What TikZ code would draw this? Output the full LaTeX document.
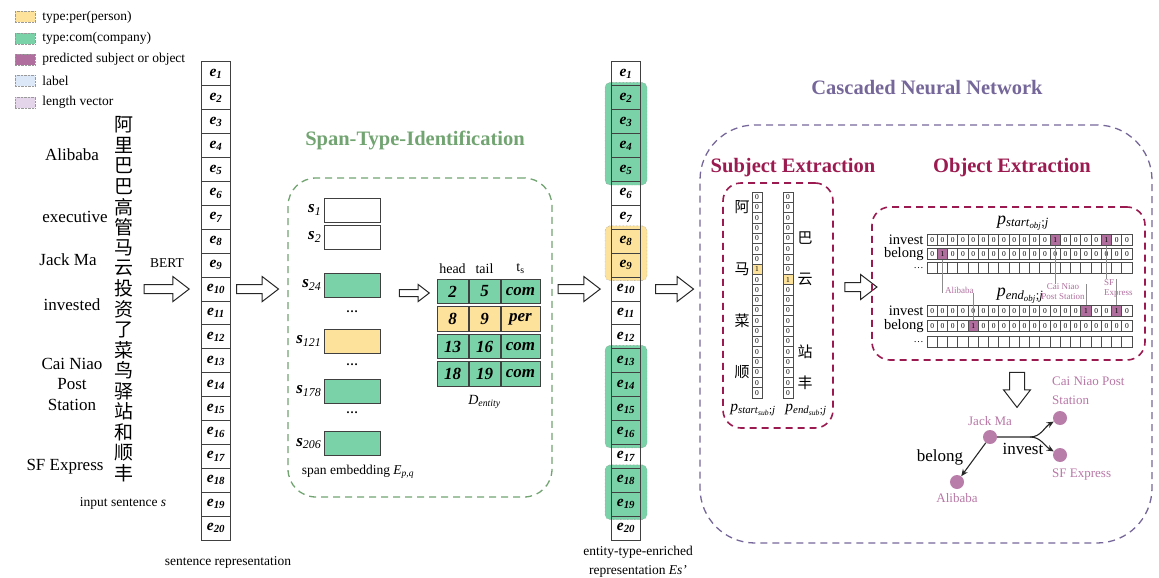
\documentclass[tikz,border=0pt]{standalone}
\usepackage{fontspec}
\setmainfont{Liberation Serif}
\newfontfamily\cjk{Noto Sans CJK SC}
\usetikzlibrary{positioning,shapes.arrows,arrows.meta,fit,backgrounds}

\definecolor{comgreen}{HTML}{7AD3A8}
\definecolor{peryellow}{HTML}{FDE29C}
\definecolor{predmauve}{HTML}{B06E9E}
\definecolor{labelblue}{HTML}{DCE7F8}
\definecolor{lenlilac}{HTML}{E5D5EA}
\definecolor{spangreen}{HTML}{72A472}
\definecolor{cnnpurple}{HTML}{76679A}
\definecolor{extcrimson}{HTML}{9B1B50}
\definecolor{entpink}{HTML}{B877A6}

\newcommand{\fsz}[1]{\fontsize{#1}{#1}\selectfont}

\tikzset{
  legendbox/.style={draw=black!40, densely dotted, fill=#1, minimum width=20pt, minimum height=11pt, inner sep=0pt},
  legendtext/.style={inner sep=0pt, font=\fsz{13.5}},
  word/.style={inner sep=0pt, font=\fontsize{17}{20.5}\selectfont},
  hanzi/.style={inner sep=0pt, font=\cjk\fsz{19}},
  captext/.style={inner sep=0pt, font=\fontsize{13.5}{19}\selectfont},
  sectitle/.style={inner sep=0pt, font=\fsz{20.5}\bfseries, text=#1},
  ecell/.style={draw=black!75, line width=1pt, minimum width=29pt, minimum height=23.9pt, inner sep=0pt, font=\fsz{15.5}\bfseries\itshape},
  entgroup/.style={fill=#1, draw=black!50, densely dotted, rounded corners=5pt, inner xsep=6pt, inner ysep=3pt},
  blockarrow/.style={single arrow, draw=black!85, line width=1pt, fill=white, inner sep=0pt, text height=8pt, text depth=0pt, single arrow head extend=8pt, single arrow tip angle=75, minimum height=#1},
  spanframe/.style={draw=spangreen, line width=1.3pt, dash pattern=on 7pt off 5pt, rounded corners=28pt, inner sep=0pt},
  cnnframe/.style={draw=cnnpurple, line width=1.3pt, dash pattern=on 7pt off 5pt, rounded corners=55pt, inner sep=0pt},
  extframe/.style={draw=extcrimson, line width=1.6pt, dash pattern=on 7pt off 5pt, rounded corners=18pt, inner sep=0pt},
  spancell/.style={draw=black!75, line width=1pt, minimum width=56pt, minimum height=24pt, inner sep=0pt},
  slabel/.style={inner sep=0pt, font=\fsz{17}},
  ellip/.style={inner sep=0pt, font=\fsz{12}\bfseries},
  tcell/.style={draw=black!75, line width=1pt, minimum height=24.5pt, inner sep=0pt, font=\fsz{17}\bfseries\itshape},
  thead/.style={inner sep=0pt, font=\fsz{14}},
  bitcell/.style={draw=black!70, line width=0.6pt, minimum width=10pt, minimum height=10.3pt, inner sep=0pt, font=\fsz{7.5}},
  objcell/.style={bitcell, minimum width=10.25pt, minimum height=11pt},
  sub0/.style={}, sub1/.style={fill=peryellow},
  obj0/.style={}, obj1/.style={fill=predmauve},
  rowlabel/.style={inner sep=0pt, font=\fsz{14.5}},
  plabel/.style={inner sep=0pt, font=\fsz{15.5}},
  annotext/.style={inner sep=0pt, font=\fontsize{9}{10}\selectfont, text=predmauve},
  annoline/.style={draw=black!45, line width=0.5pt},
  entnode/.style={circle, fill=predmauve!90, minimum size=14pt, inner sep=0pt},
  entlabel/.style={inner sep=0pt, font=\fontsize{13}{19}\selectfont, text=entpink},
  rel/.style={-{Stealth[length=7pt,width=6pt]}, line width=1.1pt, draw=black!85},
  rellabel/.style={inner sep=0pt, font=\fsz{17}}
}

\begin{document}
\begin{tikzpicture}[x=1pt,y=-1pt]
\useasboundingbox (0,0) rectangle (1159,578);

% legend
\foreach \col/\txt [count=\k] in {peryellow/type:per(person),comgreen/type:com(company),predmauve/predicted subject or object,labelblue/label,lenlilac/length vector}{
  \node[legendbox=\col] (key\k) at (25,{17+(\k-1)*21.3}) {};
  \node[legendtext, right=7pt of key\k] (keytext\k) {\txt};
}

% input sentence
\node[word] (wali) at (72,155) {Alibaba};
\node[word] (wexec) at (75,217) {executive};
\node[word] (wjack) at (68,260) {Jack Ma};
\node[word] (winv) at (72,305) {invested};
\node[word, align=center] (wcai) at (72,384) {Cai Niao\\Post\\Station};
\node[word] (wsf) at (65,467) {SF Express};
\foreach \c [count=\k] in {阿,里,巴,巴,高,管,马,云,投,资,了,菜,鸟,驿,站,和,顺,丰}
  \node[hanzi] (zi\k) at (124,{125+(\k-1)*20.47}) {\c};
\node[captext] (inputcap) at (123,503) {input sentence \textit{s}};

% sentence representation
\foreach \i in {1,...,20}
  \node[ecell] (e\i) at (216,{62+(\i-0.5)*23.9}) {e\textsubscript{\i}};
\node[captext] (sentcap) at (228,562) {sentence representation};
\node[blockarrow=45pt, left=11pt of e10] (bertarrow) {};
\node[captext] (bert) at (167,263) {BERT};
\node[blockarrow=42pt, right=5pt of e10] (arrowspan) {};

% span-type-identification
\node[sectitle=spangreen] (spantitle) at (415,140) {Span-Type-Identification};
\node[spanframe, minimum width=264pt, minimum height=319pt] (spanbox) at (420,337.5) {};
\foreach \name/\y/\col in {1/210/white,2/237/white,24/285/comgreen,121/341/peryellow,178/391/comgreen,206/443.5/comgreen}{
  \node[spancell, fill=\col] (s\name) at (352,\y) {};
  \node[slabel, left=2pt of s\name] (ls\name) {\textbf{\textit{s}}\textsubscript{\textit{\name}}};
}
\foreach \y [count=\k] in {312,365,413}
  \node[ellip] (dots\k) at (352,\y) {\ldots};
\node[captext] (spancap) at (358,472) {span embedding \textit{E}\textsubscript{\textit{p,q}}};
\node[blockarrow=30pt, text height=6pt, single arrow head extend=5pt] (arrowtab) at (412,293) {};

\foreach \h/\t/\ty/\col [count=\r] in {2/5/com/comgreen,8/9/per/peryellow,13/16/com/comgreen,18/19/com/comgreen}{
  \node[tcell, minimum width=31pt, fill=\col] (head\r) at (452.5,{291.5+(\r-1)*27.5}) {\h};
  \node[tcell, minimum width=31pt, fill=\col, right=0pt of head\r] (tail\r) {\t};
  \node[tcell, minimum width=39pt, fill=\col, right=0pt of tail\r] (type\r) {\ty};
}
\node[thead, above=5pt of head1] (hhead) {head};
\node[thead, above=5pt of tail1] (htail) {tail};
\node[thead, above=5pt of type1] (htype) {t\textsubscript{s}};
\node[thead, below=8pt of tail4] (dentity) {\textit{D}\textsubscript{\textit{entity}}};

% entity-type-enriched representation
\foreach \i in {1,...,20}
  \node[ecell] (ee\i) at (626,{62+(\i-0.5)*23.9}) {e\textsubscript{\i}};
\begin{scope}[on background layer]
  \node[entgroup=comgreen, fit=(ee2)(ee5)] (gcom1) {};
  \node[entgroup=peryellow, fit=(ee8)(ee9)] (gper1) {};
  \node[entgroup=comgreen, fit=(ee13)(ee16)] (gcom2) {};
  \node[entgroup=comgreen, fit=(ee18)(ee19)] (gcom3) {};
\end{scope}
\node[blockarrow=42pt, left=10pt of ee10] (arrowmid) {};
\node[captext, align=center] (entcap) at (638,562) {entity-type-enriched\\representation \textit{Es'}};
\node[blockarrow=38pt, right=14pt of ee10] (arrowcnn) {};

% cascaded neural network
\node[sectitle=cnnpurple] (cnntitle) at (927,88) {Cascaded Neural Network};
\node[cnnframe, minimum width=452pt, minimum height=418pt] (cnnbox) at (926,334) {};
\node[sectitle=extcrimson] (subtitle) at (793,168) {Subject Extraction};
\node[sectitle=extcrimson] (objtitle) at (1012,168) {Object Extraction};

% subject extraction
\node[extframe, minimum width=110pt, minimum height=245pt] (subbox) at (778,305.5) {};
\foreach \k in {0,...,19}{
  \pgfmathtruncatemacro\bit{\k==7}
  \node[bitcell, sub\bit] (ss\k) at (757,{192+(\k+0.5)*10.3}) {\bit};
  \pgfmathtruncatemacro\bit{\k==8}
  \node[bitcell, sub\bit] (se\k) at (788,{192+(\k+0.5)*10.3}) {\bit};
}
\foreach \k/\c in {1/阿,7/马,12/菜,17/顺}
  \node[hanzi, font=\cjk\fsz{15}, left=2pt of ss\k] (zs\k) {\c};
\foreach \k/\c in {4/巴,8/云,15/站,18/丰}
  \node[hanzi, font=\cjk\fsz{15}, right=4pt of se\k] (ze\k) {\c};
\node[plabel] (pstartsub) at (753,410) {\textit{p}\textsubscript{\textit{start}\textsubscript{\textit{sub}};\textit{j}}};
\node[plabel] (pendsub) at (806,410) {\textit{p}\textsubscript{\textit{end}\textsubscript{\textit{sub}};\textit{j}}};
\node[blockarrow=32pt] (arrowobj) at (858,287) {};

% object extraction
\node[extframe, minimum width=273pt, minimum height=153pt] (objbox) at (1008.5,283.5) {};
\node[plabel, font=\fsz{18}] (pstartobj) at (1023,223) {\textit{p}\textsubscript{\textit{start}\textsubscript{\textit{obj}};\textit{j}}};
\node[plabel, font=\fsz{18}] (pendobj) at (1020,296) {\textit{p}\textsubscript{\textit{end}\textsubscript{\textit{obj}};\textit{j}}};
\foreach \row/\y/\one/\two in {psi/240/12/17,psb/254/1/1,pei/311/15/18,peb/326/4/4}
  \foreach \k in {0,...,19}{
    \pgfmathtruncatemacro\bit{or(\k==\one,\k==\two)}
    \node[objcell, obj\bit] (\row\k) at ({927+(\k+0.5)*10.25},\y) {\bit};
  }
\foreach \row/\y in {psd/268,ped/342}
  \foreach \k in {0,...,19}
    \node[objcell] (\row\k) at ({927+(\k+0.5)*10.25},\y) {};
\foreach \row/\txt in {psi/invest,psb/belong,pei/invest,peb/belong}
  \node[rowlabel, left=3pt of \row0] (lab\row) {\txt};
\foreach \row in {psd,ped}
  \node[rowlabel, font=\fsz{10}, left=3pt of \row0] (lab\row) {\ldots};

\node[annotext, anchor=west] (alilab) at (945,290) {Alibaba};
\node[annotext, align=center] (cnlab) at (1063,292) {Cai Niao\\Post Station};
\node[annotext, align=left, anchor=west] (sflab) at (1104,288) {SF\\Express};
\draw[annoline] (psb1.south) -- (psb1.south |- alilab.south);
\draw[annoline] (peb4.north) -- (peb4.north |- alilab.south);
\draw[annoline] (psi12.south) -- (psi12.south |- cnlab.north);
\draw[annoline] (pei15.north) -- (pei15.north |- cnlab.north);
\draw[annoline] (psi17.south) -- (psi17.south |- sflab.north);
\draw[annoline] (pei18.north) -- (pei18.north |- sflab.north);

% extracted triples
\node[blockarrow=35pt, text height=14pt, single arrow head extend=6pt, rotate=-90] (arrowgraph) at (1017,385) {};
\node[entnode] (jackma) at (990,437) {};
\node[entnode] (cainiao) at (1060,418) {};
\node[entnode] (sfexp) at (1060,455) {};
\node[entnode] (alibaba) at (957,482) {};
\node[entlabel, above=4pt of jackma] (jackmalab) {Jack Ma};
\node[entlabel, align=left, anchor=west] (cainiaolab) at (1052,391) {Cai Niao Post\\Station};
\node[entlabel, anchor=west] (sfexplab) at (1052,475) {SF Express};
\node[entlabel, below=4pt of alibaba] (alibabalab) {Alibaba};
\coordinate (split) at (1030,437);
\draw[rel] (jackma) -- (alibaba);
\draw[rel] (jackma) -- (split) to[out=0,in=210] (cainiao);
\draw[rel] (split) to[out=0,in=150] (sfexp);
\node[rellabel] (belong) at (940,457) {belong};
\node[rellabel] (invest) at (1023,449) {invest};
\end{tikzpicture}
\end{document}
